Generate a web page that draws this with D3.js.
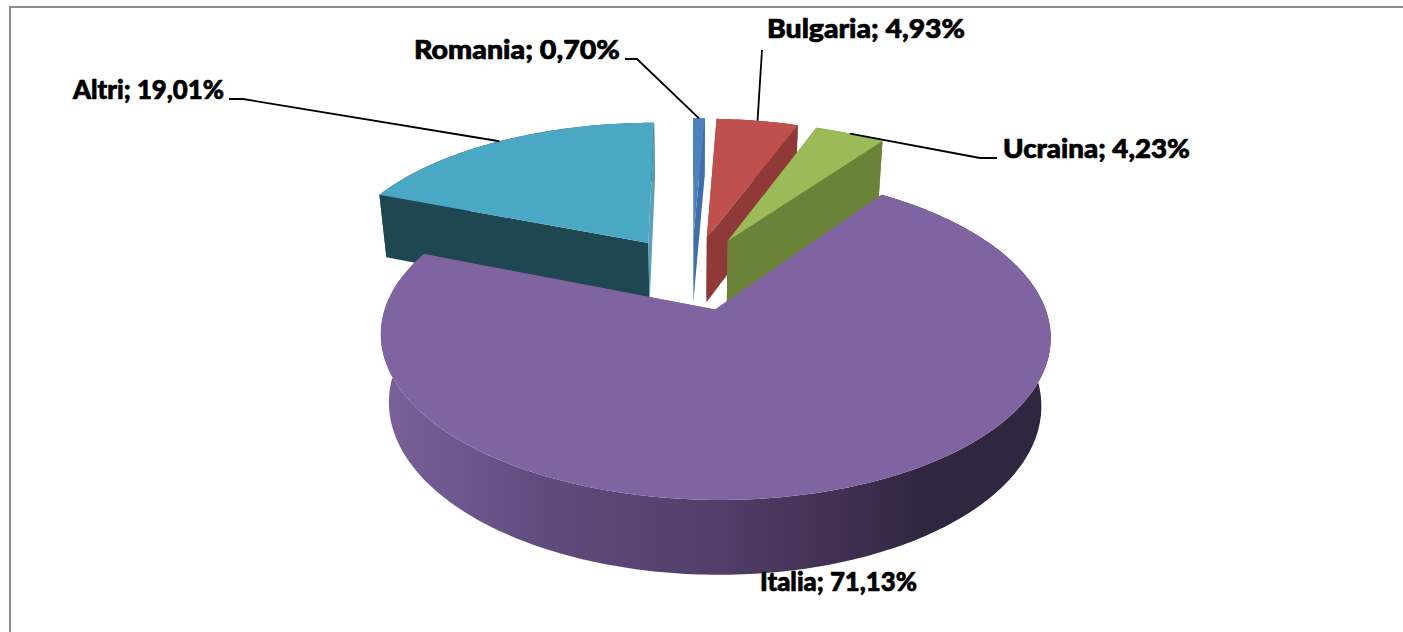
<!DOCTYPE html>
<html>
<head>
<meta charset="utf-8">
<script src="https://cdn.jsdelivr.net/npm/d3@7"></script>
<style>
  html, body { margin: 0; padding: 0; background: #fff; overflow: hidden; }
  text { font-family: "Lato", sans-serif; font-weight: 900; font-size: 26px; fill: #000; stroke: #000; stroke-width: 0.7; stroke-linejoin: round; }
</style>
</head>
<body>
<div id="viz"></div>
<script>
const categories = ["Romania", "Bulgaria", "Ucraina", "Italia", "Altri"]
const values = [0.70, 4.93, 4.23, 71.13, 19.01]
const valueLabels = ["0,70%", "4,93%", "4,23%", "71,13%", "19,01%"]
const topColors = ["#4f81bd", "#c0504d", "#9bbb59", "#8064a2", "#4ba8c4"]
const sideColors = ["#3f6ea8", "#8f3a38", "#6b8239", "#6b5488", "#1f4752"]
const endWallColors = ["#3f6ea8", "#8f3a38", "#6b8239", "#6b5488", "#5aa0b8"]

// label anchor (text start, baseline, width) and which way the leader leaves the text
const labelPos = {
  Romania: {x: 414, y: 59, w: 206, stub: [625, 637]},
  Bulgaria: {x: 767, y: 38, w: 198, from: [762, 50]},
  Ucraina: {x: 1003, y: 158, w: 187, stub: [997, 980]},
  Italia: {x: 760, y: 591, w: 157},
  Altri: {x: 73, y: 99, w: 151, stub: [229, 243]}
}

const width = 1403, height = 632

const svg = d3.select("#viz").append("svg").attr("width", width).attr("height", height)

// the frame runs off the right and bottom of the picture
svg.append("rect")
  .attr("x", 10).attr("y", 7).attr("width", 1420).attr("height", 660)
  .attr("fill", "#fff").attr("stroke", "#8c8c8c").attr("stroke-width", 2)

// perspective camera fitted to the tilted pie
const cam = {cx: 691.7, cy: 272.6, R: 318, V: 147.7, D: 67.8, k: 0.157, kz: 0.025}
const explode = 0.25

const project = (x, y, z) => {
  const s = 1 / (1 + cam.k * y + cam.kz * z)
  return [cam.cx + cam.R * x * s, cam.cy - cam.V * y * s + cam.D * z * s]
}

const pie = d3.pie().value(d => d).sort(null)
const arcs = pie(values)

const line = d3.line()

// world position of a point on the rim of a slice (r = 1) or its apex (r = 0)
const world = (d, a, r) => {
  const mid = (d.startAngle + d.endAngle) / 2
  return [explode * Math.sin(mid) + r * Math.sin(a), explode * Math.cos(mid) + r * Math.cos(a)]
}

const rim = (d, z) => {
  const n = Math.max(2, Math.ceil((d.endAngle - d.startAngle) * 60))
  return d3.range(n + 1).map(i => {
    const a = d.startAngle + (d.endAngle - d.startAngle) * i / n
    const w = world(d, a, 1)
    return project(w[0], w[1], z)
  })
}

const defs = svg.append("defs")
const grad = defs.append("linearGradient")
  .attr("id", "italiaSide")
  .attr("gradientUnits", "userSpaceOnUse")
  .attr("x1", 382).attr("x2", 1051).attr("y1", 0).attr("y2", 0)
const stops = [[0, "#7a6199"], [0.25, "#5f4a7c"], [0.5, "#523e68"], [0.7, "#3f2e50"], [0.82, "#30263f"], [1, "#31263f"]]
stops.forEach(s => grad.append("stop").attr("offset", s[0]).attr("stop-color", s[1]))

const drawOrder = [4, 0, 1, 2, 3]

drawOrder.forEach(i => {
  const d = arcs[i]
  const g = svg.append("g").attr("class", "slice")
  const sideFill = categories[i] == "Italia" ? "url(#italiaSide)" : sideColors[i]

  const apexW = world(d, 0, 0)
  const apexTop = project(apexW[0], apexW[1], 0)
  const apexBot = project(apexW[0], apexW[1], 1)
  const top = rim(d, 0)
  const bot = rim(d, 1)

  // outer wall
  g.append("path")
    .attr("d", line(top.concat(bot.slice().reverse())) + "Z")
    .attr("fill", sideFill)
  // cut walls
  g.append("path")
    .attr("d", line([apexTop, top[0], bot[0], apexBot]) + "Z")
    .attr("fill", sideColors[i])
  g.append("path")
    .attr("d", line([apexTop, top[top.length - 1], bot[bot.length - 1], apexBot]) + "Z")
    .attr("fill", endWallColors[i])
  // top face
  g.append("path")
    .attr("d", line([apexTop].concat(top)) + "Z")
    .attr("fill", topColors[i])
})

// leaders run from the label to the rim at the middle of the slice
categories.forEach((name, i) => {
  const p = labelPos[name]
  const d = arcs[i]
  const mid = (d.startAngle + d.endAngle) / 2
  const w = world(d, mid, 1)
  const end = project(w[0], w[1], 0)
  let pts = null
  if (p.stub) pts = [[p.stub[0], p.y], [p.stub[1], p.y], end]
  if (p.from) pts = [p.from, end]
  if (pts) {
    svg.append("path")
      .attr("d", line(pts))
      .attr("fill", "none")
      .attr("stroke", "#000")
      .attr("stroke-width", 1.8)
  }
  svg.append("text")
    .attr("x", p.x).attr("y", p.y)
    .attr("textLength", p.w)
    .attr("lengthAdjust", "spacingAndGlyphs")
    .text(name + "; " + valueLabels[i])
})
</script>
</body>
</html>
